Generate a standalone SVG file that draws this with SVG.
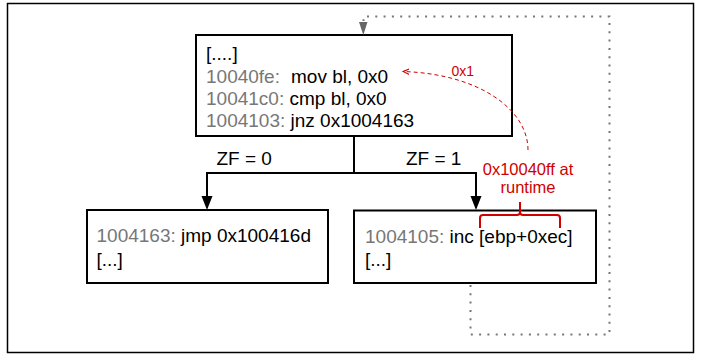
<svg xmlns="http://www.w3.org/2000/svg" width="702" height="356" viewBox="0 0 702 356">
<defs>
<style>
.box{fill:#fff;stroke:#000;stroke-width:2}
.t{font-family:"Liberation Sans",Arial,sans-serif;font-size:19px;fill:#000}
.a{fill:#777}
.r{font-family:"Liberation Sans",Arial,sans-serif;fill:#d00000}
.conn{fill:none;stroke:#000;stroke-width:2}
.dot{fill:none;stroke:#777;stroke-width:2;stroke-dasharray:2 6.3}
</style>
<marker id="rh" viewBox="0 0 10 10" refX="9" refY="5" markerWidth="7" markerHeight="7" markerUnits="userSpaceOnUse" orient="auto">
<path d="M0,1 L9,5 L0,9" fill="none" stroke="#d00000" stroke-width="1.5"/>
</marker>
</defs>
<rect x="7.5" y="3.5" width="686" height="349" fill="#fff" stroke="#000" stroke-width="1.5"/>

<g id="node-top">
<rect class="box" x="196" y="35" width="316" height="101"/>
<text class="t" x="206" y="60">[....]</text>
<text class="t" x="206" y="82.5"><tspan class="a">10040fe:</tspan>  <tspan x="291">mov bl, 0x0</tspan></text>
<text class="t" x="206" y="104.5"><tspan class="a">10041c0:</tspan> cmp bl, 0x0</text>
<text class="t" x="206" y="126.5"><tspan class="a">1004103:</tspan> jnz 0x1004163</text>
</g>

<g id="node-left">
<rect class="box" x="87" y="210" width="241" height="73"/>
<text class="t" x="96.5" y="242"><tspan class="a">1004163:</tspan> jmp 0x100416d</text>
<text class="t" x="96.5" y="266">[...]</text>
</g>

<g id="node-right">
<rect class="box" x="354" y="210.5" width="242" height="72.5"/>
<text class="t" x="365" y="242.5"><tspan class="a">1004105:</tspan> inc [ebp+0xec]</text>
<text class="t" x="365" y="266">[...]</text>
</g>

<g id="connectors">
<path class="conn" d="M354,136 V173 H207 V197"/>
<path d="M201.5,196 L212.5,196 L207,210 Z" fill="#000"/>
<path class="conn" d="M354,173 H476 V197"/>
<path d="M470.5,196 L481.5,196 L476,210 Z" fill="#000"/>
<path class="dot" d="M470.5,285 V334.5 H609.5 V16.5 H363.5 V21"/>
<path d="M359,22 L367.5,22 L363.3,35 Z" fill="#666"/>
<path d="M528,150 C528,110 480,74 403,71.5" fill="none" stroke="#d00000" stroke-width="1" stroke-dasharray="4 3" marker-end="url(#rh)"/>
</g>

<g id="labels">
<text class="t" x="216.5" y="165">ZF = 0</text>
<text class="t" x="406" y="165">ZF = 1</text>
<text class="r" x="451.5" y="76" font-size="14">0x1</text>
<text class="r" x="528" y="175" font-size="16.5" text-anchor="middle">0x10040ff at</text>
<text class="r" x="528" y="193" font-size="16.5" text-anchor="middle">runtime</text>
<path d="M480,228 V218 Q480,215 483,215 H517 Q520,215 520,212 V202 M520,212 Q520,215 523,215 H557 Q560,215 560,218 V228" fill="none" stroke="#d00000" stroke-width="2"/>
</g>
</svg>
